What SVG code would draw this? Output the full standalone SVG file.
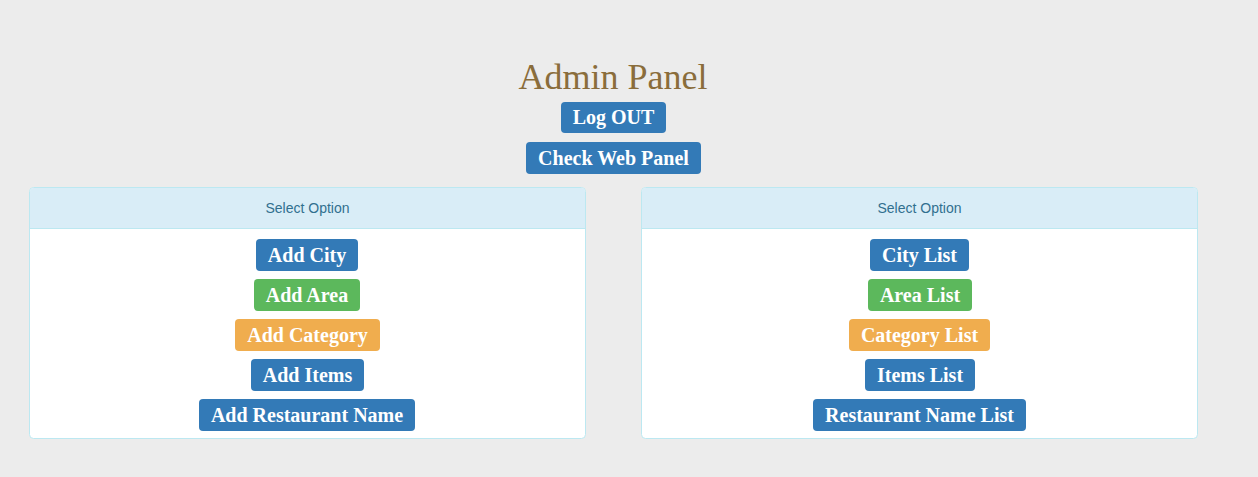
<svg xmlns="http://www.w3.org/2000/svg" width="1258" height="477" viewBox="0 0 1258 477">
<style>
.bg{fill:#ececec}
.panel{fill:#ffffff;stroke:#bce8f1;stroke-width:1}
.head{fill:#d9edf7}
.hline{stroke:#bce8f1;stroke-width:1}
.htxt{font-family:"Liberation Sans",Arial,sans-serif;font-size:14px;fill:#31708f;text-anchor:middle}
.btn{stroke:none}
.blue{fill:#337ab7}
.green{fill:#5cb85c}
.orange{fill:#f0ad4e}
.bt{font-family:"Liberation Serif","Times New Roman",serif;font-size:20px;font-weight:bold;fill:#ffffff;text-anchor:middle}
.title{font-family:"Liberation Serif","Times New Roman",serif;font-size:36px;fill:#8a6d3b;text-anchor:middle}
</style>
<rect class="bg" x="0" y="0" width="1258" height="477"/>
<g id="title"><text class="title" x="613" y="89">Admin Panel</text></g>
<g id="logout"><rect class="btn blue" x="561" y="102" width="105" height="31" rx="4"/><text class="bt" x="613.5" y="124">Log OUT</text></g>
<g id="webpanel"><rect class="btn blue" x="526" y="142" width="175" height="32" rx="4"/><text class="bt" x="613.5" y="164.5">Check Web Panel</text></g>

<g id="left-panel">
<rect class="panel" x="29.5" y="187.5" width="556" height="251" rx="4"/>
<path class="head" d="M30,228 V191.5 a3.5,3.5 0 0 1 3.5,-3.5 H581.5 a3.5,3.5 0 0 1 3.5,3.5 V228 Z"/>
<line class="hline" x1="30" y1="228.5" x2="585" y2="228.5"/>
<text class="htxt" x="307.5" y="213">Select Option</text>
</g>
<g id="add-city"><rect class="btn blue" x="256" y="239" width="102" height="32" rx="4"/><text class="bt" x="307" y="261.5">Add City</text></g>
<g id="add-area"><rect class="btn green" x="254" y="279" width="106" height="32" rx="4"/><text class="bt" x="307" y="301.5">Add Area</text></g>
<g id="add-category"><rect class="btn orange" x="235" y="319" width="145" height="32" rx="4"/><text class="bt" x="307.5" y="341.5">Add Category</text></g>
<g id="add-items"><rect class="btn blue" x="251" y="359" width="113" height="32" rx="4"/><text class="bt" x="307.5" y="381.5">Add Items</text></g>
<g id="add-restaurant"><rect class="btn blue" x="199" y="399" width="216" height="32" rx="4"/><text class="bt" x="307" y="421.5">Add Restaurant Name</text></g>

<g id="right-panel">
<rect class="panel" x="641.5" y="187.5" width="556" height="251" rx="4"/>
<path class="head" d="M642,228 V191.5 a3.5,3.5 0 0 1 3.5,-3.5 H1193.5 a3.5,3.5 0 0 1 3.5,3.5 V228 Z"/>
<line class="hline" x1="642" y1="228.5" x2="1197" y2="228.5"/>
<text class="htxt" x="919.5" y="213">Select Option</text>
</g>
<g id="city-list"><rect class="btn blue" x="870" y="239" width="99" height="32" rx="4"/><text class="bt" x="919.5" y="261.5">City List</text></g>
<g id="area-list"><rect class="btn green" x="868" y="279" width="104" height="32" rx="4"/><text class="bt" x="920" y="301.5">Area List</text></g>
<g id="category-list"><rect class="btn orange" x="849" y="319" width="141" height="32" rx="4"/><text class="bt" x="919.5" y="341.5">Category List</text></g>
<g id="items-list"><rect class="btn blue" x="865" y="359" width="110" height="32" rx="4"/><text class="bt" x="920" y="381.5">Items List</text></g>
<g id="restaurant-list"><rect class="btn blue" x="813" y="399" width="213" height="32" rx="4"/><text class="bt" x="919.5" y="421.5">Restaurant Name List</text></g>

<g id="connectors"></g>
</svg>
